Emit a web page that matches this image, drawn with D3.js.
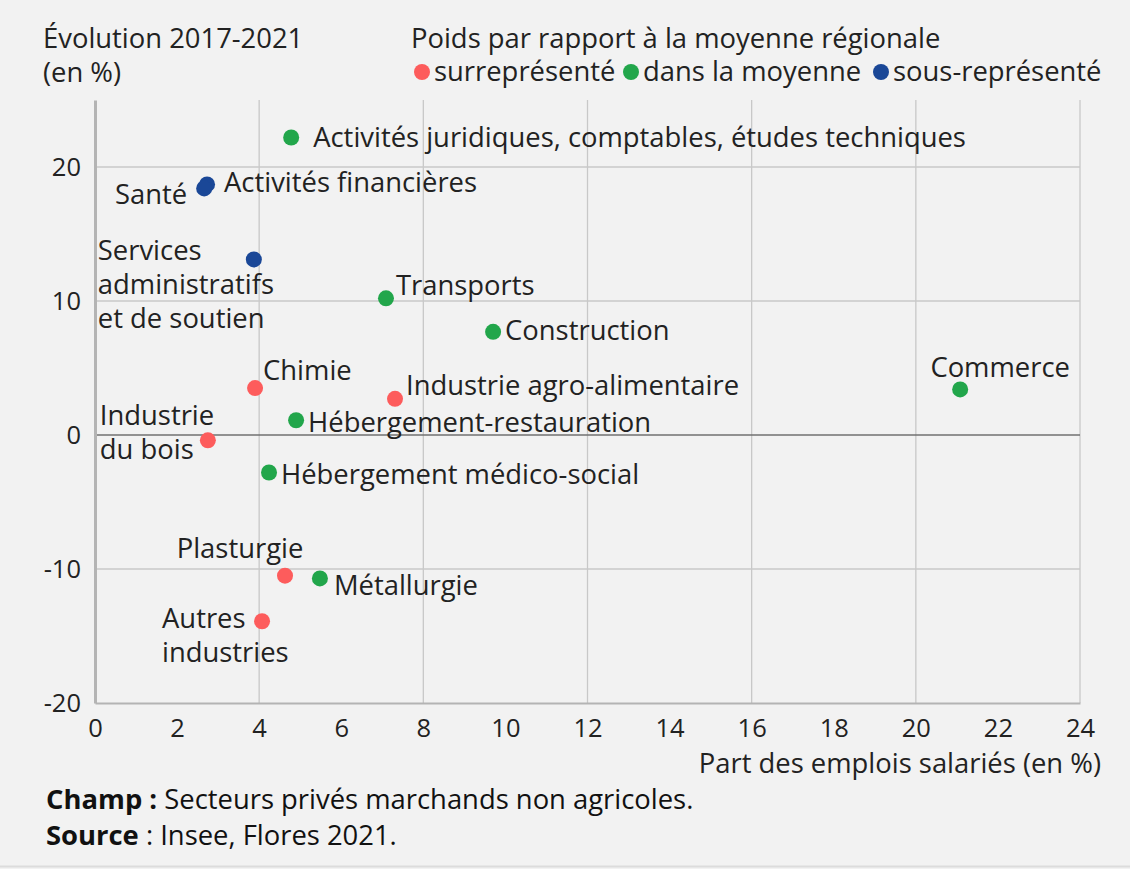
<!DOCTYPE html>
<html><head><meta charset="utf-8">
<script src="https://cdn.jsdelivr.net/npm/d3@7"></script>
<style>
html,body{margin:0;padding:0;background:#f2f2f2;}
svg{display:block;font-family:"Open Sans","Noto Sans",sans-serif;}
</style></head>
<body><svg id="c" width="1130" height="869"></svg>
<script>
// ---- data ----
const sectors = ["Activités juridiques, comptables, études techniques","Activités financières","Santé","Services administratifs et de soutien","Transports","Construction","Commerce","Chimie","Industrie agro-alimentaire","Hébergement-restauration","Industrie du bois","Hébergement médico-social","Plasturgie","Métallurgie","Autres industries"];
const partEmplois = [4.78, 2.73, 2.66, 3.87, 7.09, 9.70, 21.08, 3.90, 7.31, 4.90, 2.75, 4.24, 4.63, 5.48, 4.07];
const evolution = [22.2, 18.7, 18.4, 13.1, 10.2, 7.7, 3.4, 3.5, 2.7, 1.1, -0.4, -2.8, -10.5, -10.7, -13.9];
const poids = ["moy","sous","sous","sous","moy","moy","moy","sur","sur","moy","sur","moy","sur","moy","sur"];
const categories = ["sur","moy","sous"];
const categoryLabels = ["surreprésenté","dans la moyenne","sous-représenté"];
const xTicks = [0,2,4,6,8,10,12,14,16,18,20,22,24];
const yTicks = [-20,-10,0,10,20];

// ---- label layout (presentation only) ----
const labelLines = [
  ["Activités juridiques, comptables, études techniques"],["Activités financières"],["Santé"],
  ["Services","administratifs","et de soutien"],["Transports"],["Construction"],["Commerce"],["Chimie"],
  ["Industrie agro-alimentaire"],["Hébergement-restauration"],["Industrie","du bois"],["Hébergement médico-social"],
  ["Plasturgie"],["Métallurgie"],["Autres","industries"]];
// [dx, dy(center of first line), anchor]
const labelPos = [[22,0,"start"],[17,-2,"start"],[-17,6,"end"],[-156,-9,"start"],[10,-13,"start"],[12,-1,"start"],[40,-22,"middle"],[8,-18,"start"],[11,-13,"start"],[12,2,"start"],[-108,-25,"start"],[12,2,"start"],[-45,-27,"middle"],[14,7,"start"],[-100,-3,"start"]];

const colors = d3.scaleOrdinal().domain(categories).range(["#fd5c5c","#22a64b","#1a4797"]);

const svg = d3.select("#c");
const x = d3.scaleLinear().domain([0,24]).range([95,1080]);
const y = d3.scaleLinear().domain([-20,25]).range([703,100]);
const fs = 27.4;

// grid
svg.append("g").selectAll("line").data([4,8,12,16,20,24]).join("line")
  .attr("x1",d=>x(d)).attr("x2",d=>x(d)).attr("y1",y(25)).attr("y2",y(-20))
  .attr("stroke","#c8c8c8").attr("stroke-width",1.3);
svg.append("g").selectAll("line").data([-10,10,20]).join("line")
  .attr("x1",x(0)).attr("x2",x(24)).attr("y1",d=>y(d)).attr("y2",d=>y(d))
  .attr("stroke","#c8c8c8").attr("stroke-width",1.3);
svg.append("line").attr("x1",x(0)).attr("x2",x(24)).attr("y1",y(0)).attr("y2",y(0))
  .attr("stroke","#707070").attr("stroke-width",1.6);

// axes
const fmt = d => String(d);
const xAxis = svg.append("g").attr("transform",`translate(0,${y(-20)})`)
  .call(d3.axisBottom(x).tickValues(xTicks).tickSize(0).tickPadding(16).tickFormat(fmt));
xAxis.select(".domain").attr("stroke","#b4b4b4").attr("stroke-width",2);
xAxis.selectAll("text").attr("font-size",25.5).attr("fill","#222").attr("font-family","Open Sans");
const yAxis = svg.append("g").attr("transform",`translate(${x(0)},0)`)
  .call(d3.axisLeft(y).tickValues(yTicks).tickSize(0).tickPadding(14).tickFormat(fmt));
yAxis.select(".domain").attr("stroke","#b4b4b4").attr("stroke-width",3);
yAxis.selectAll("text").attr("font-size",25.5).attr("fill","#222").attr("font-family","Open Sans");

// titles
const t = svg.append("text").attr("x",43).attr("font-size",fs).attr("fill","#222");
t.append("tspan").attr("x",43).attr("y",48).text("Évolution 2017-2021");
t.append("tspan").attr("x",43).attr("y",82).text("(en %)");
svg.append("text").attr("x",1101).attr("y",773).attr("text-anchor","end").attr("font-size",fs).attr("fill","#222")
  .text("Part des emplois salariés (en %)");

// legend
svg.append("text").attr("x",411).attr("y",48).attr("font-size",fs).attr("fill","#222").text("Poids par rapport à la moyenne régionale");
const legX = [422,631,881];
const lg = svg.append("g").selectAll("g").data(categories).join("g")
  .attr("transform",(d,i)=>`translate(${legX[i]},72)`);
lg.append("circle").attr("r",8).attr("fill",d=>colors(d));
lg.append("text").attr("x",12).attr("y",9).attr("font-size",fs).attr("fill","#222").text((d,i)=>categoryLabels[i]);

// points
const idx = d3.range(sectors.length);
svg.append("g").selectAll("circle").data(idx).join("circle")
  .attr("cx",i=>x(partEmplois[i])).attr("cy",i=>y(evolution[i])).attr("r",8)
  .attr("fill",i=>colors(poids[i]));

// labels
const lab = svg.append("g").selectAll("text").data(idx).join("text")
  .attr("font-size",fs).attr("fill","#222")
  .attr("text-anchor",i=>labelPos[i][2]);
lab.each(function(i){
  const el = d3.select(this);
  const bx = x(partEmplois[i])+labelPos[i][0];
  const by = y(evolution[i])+labelPos[i][1];
  labelLines[i].forEach((ln,k)=>{
    el.append("tspan").attr("x",bx).attr("y",by+k*34).attr("dy","0.35em").text(ln);
  });
});

// footer
const f1 = svg.append("text").attr("x",46).attr("y",809).attr("font-size",fs).attr("fill","#111");
f1.append("tspan").attr("font-weight","bold").text("Champ :");
f1.append("tspan").text(" Secteurs privés marchands non agricoles.");
const f2 = svg.append("text").attr("x",46).attr("y",845).attr("font-size",fs).attr("fill","#111");
f2.append("tspan").attr("font-weight","bold").text("Source");
f2.append("tspan").text(" : Insee, Flores 2021.");
svg.append("line").attr("x1",0).attr("x2",1130).attr("y1",866.5).attr("y2",866.5).attr("stroke","#dcdcdc").attr("stroke-width",2);
</script></body></html>
